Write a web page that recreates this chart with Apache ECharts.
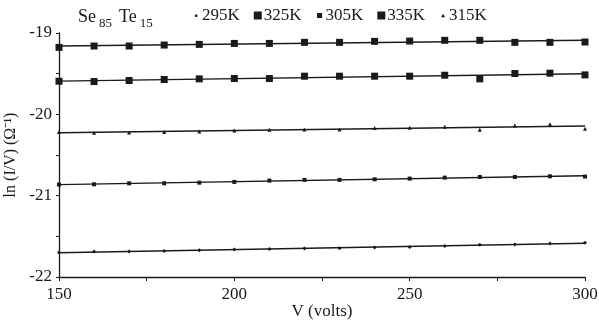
<!DOCTYPE html>
<html>
<head>
<meta charset="utf-8">
<script src="https://cdn.jsdelivr.net/npm/echarts@6/dist/echarts.min.js"></script>
<style>
  html, body { margin: 0; padding: 0; background: #fff; }
  #chart { width: 599px; height: 322px; }
</style>
</head>
<body>
<div id="chart"></div>
<script>
// applied voltage (volts)
const volts = [150, 160, 170, 180, 190, 200, 210, 220, 230, 240, 250, 260, 270, 280, 290, 300];

// ln(I/V), one array per temperature
const k295 = [-21.70, -21.687, -21.687, -21.679, -21.670, -21.663, -21.657, -21.650, -21.645, -21.638, -21.630, -21.620, -21.605, -21.600, -21.589, -21.580];
const k305 = [-20.864, -20.860, -20.848, -20.848, -20.840, -20.831, -20.815, -20.806, -20.806, -20.799, -20.790, -20.778, -20.770, -20.770, -20.762, -20.765];
const k315 = [-20.218, -20.226, -20.222, -20.218, -20.210, -20.198, -20.190, -20.185, -20.185, -20.169, -20.164, -20.152, -20.190, -20.136, -20.123, -20.177];
const k325 = [-19.593, -19.597, -19.584, -19.572, -19.564, -19.560, -19.560, -19.531, -19.531, -19.531, -19.531, -19.519, -19.564, -19.498, -19.494, -19.515];
const k335 = [-19.177, -19.160, -19.160, -19.148, -19.140, -19.128, -19.128, -19.115, -19.115, -19.103, -19.099, -19.090, -19.090, -19.115, -19.115, -19.111];

const legendNames = ["295K", "325K", "305K", "335K", "315K"];
const xTicks = [150, 200, 250, 300];

const serif = "Liberation Serif";
const ink = "#1a1a1a";

// least squares straight line through the points, like the trendlines in the figure
function fit(ys) {
  const n = volts.length;
  let sx = 0, sy = 0, sxx = 0, sxy = 0;
  for (let i = 0; i < n; i++) {
    sx += volts[i]; sy += ys[i];
    sxx += volts[i] * volts[i]; sxy += volts[i] * ys[i];
  }
  const b = (n * sxy - sx * sy) / (n * sxx - sx * sx);
  const a = (sy - b * sx) / n;
  const x0 = volts[0], x1 = volts[n - 1];
  return [[x0, a + b * x0], [x1, a + b * x1]];
}

function pts(ys) {
  return volts.map((v, i) => [v, ys[i]]);
}

function markers(name, ys, symbol, size) {
  return {
    name: name,
    type: "scatter",
    symbol: symbol,
    symbolSize: size,
    itemStyle: { color: ink, opacity: 1 },
    data: pts(ys),
    z: 3,
  };
}

function trend(ys) {
  return {
    name: "fit",
    type: "line",
    symbol: "none",
    silent: true,
    lineStyle: { color: ink, width: 1.4 },
    data: fit(ys),
    z: 2,
  };
}

// small icons padded inside a 10x10 box so the legend box keeps one size
const dotIcon = "path://M0,0L0,0M10,10L10,10M4,4h2.4v2.4h-2.4z";
const smallSq = "path://M0,0L0,0M10,10L10,10M2.5,2.5h5v5h-5z";
const bigSq = "path://M0,0L0,0M10,10L10,10M1,1h8v8h-8z";
const triIcon = "path://M0,0L0,0M10,10L10,10M5,3.2L7,6.8L3,6.8z";

const chart = echarts.init(document.getElementById("chart"));

chart.setOption({
  animation: false,
  title: {
    text: "{a|Se}{b|85}{a|Te}{b|15}",
    left: 73,
    top: 3,
    textStyle: {
      fontWeight: "normal",
      rich: {
        a: { fontFamily: serif, fontSize: 18, fontWeight: "normal", color: ink, verticalAlign: "top" },
        b: { fontFamily: serif, fontSize: 13, fontWeight: "normal", color: ink, verticalAlign: "top", padding: [9, 7, 0, 3] },
      },
    },
  },
  legend: {
    data: [
      { name: "295K", icon: dotIcon },
      { name: "325K", icon: bigSq },
      { name: "305K", icon: smallSq },
      { name: "335K", icon: bigSq },
      { name: "315K", icon: triIcon },
    ].filter(d => legendNames.includes(d.name)),
    left: 186,
    top: 2,
    itemWidth: 10,
    itemHeight: 10,
    itemGap: 13,
    selectedMode: false,
    itemStyle: { opacity: 1 },
    textStyle: { fontFamily: serif, fontSize: 17, color: ink, padding: [0, 0, 0, -4] },
  },
  grid: { left: 59, right: 14, top: 33, bottom: 45, outerBoundsMode: "none" },
  xAxis: {
    type: "value",
    min: 150,
    max: 300,
    interval: 50,
    name: "V (volts)",
    nameLocation: "middle",
    nameGap: 26,
    nameMoveOverlap: false,
    nameTextStyle: { fontFamily: serif, fontSize: 17, color: ink },
    axisLine: { lineStyle: { color: ink, width: 1.3 } },
    axisTick: { show: true, length: 4, lineStyle: { color: ink } },
    minorTick: { show: true, splitNumber: 2, length: 4, lineStyle: { color: ink } },
    splitLine: { show: false },
    axisLabel: {
      fontFamily: serif, fontSize: 17, color: ink, margin: 9,
      formatter: v => (xTicks.includes(v) ? String(v) : ""),
    },
  },
  yAxis: {
    type: "value",
    min: -22,
    max: -19,
    interval: 1,
    name: "ln (I/V) (Ω⁻¹)",
    nameLocation: "middle",
    nameGap: 35,
    nameRotate: 90,
    nameTextStyle: { fontFamily: serif, fontSize: 16, color: ink },
    axisLine: { show: true, lineStyle: { color: ink, width: 1.3 } },
    axisTick: { show: true, length: 3, lineStyle: { color: ink } },
    minorTick: { show: true, splitNumber: 2, length: 3, lineStyle: { color: ink } },
    splitLine: { show: false },
    axisLabel: { fontFamily: serif, fontSize: 17, color: ink, margin: 7 },
  },
  series: [
    markers("295K", k295, "diamond", 4),
    markers("325K", k325, "rect", 7),
    markers("305K", k305, "rect", 4),
    markers("335K", k335, "rect", 7),
    markers("315K", k315, "triangle", 4),
    trend(k295),
    trend(k325),
    trend(k305),
    trend(k335),
    trend(k315),
  ],
});
</script>
</body>
</html>
